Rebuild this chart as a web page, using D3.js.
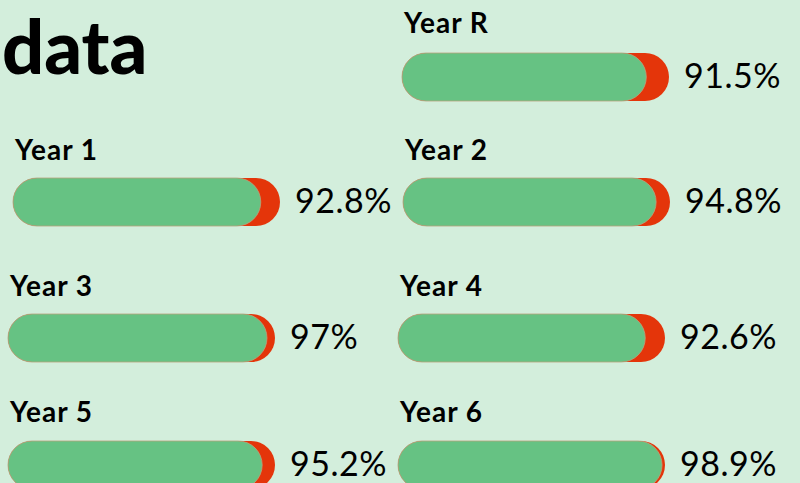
<!DOCTYPE html>
<html>
<head>
<meta charset="utf-8">
<script src="https://cdn.jsdelivr.net/npm/d3@7"></script>
<style>
  body { margin: 0; background: #d3eedc; }
  svg { display: block; }
</style>
</head>
<body>
<div id="chart"></div>
<script>
// data
const years = ['Year R', 'Year 1', 'Year 2', 'Year 3', 'Year 4', 'Year 5', 'Year 6'];
const attendance = [91.5, 92.8, 94.8, 97, 92.6, 95.2, 98.9];
const valueLabels = ['91.5%', '92.8%', '94.8%', '97%', '92.6%', '95.2%', '98.9%'];

width = 800;
height = 483;
barH = 48;
trackW = 267;

// grid layout: Year R sits top right, next to the title
rowLabelY = [33, 160, 296, 422];
rowBarY = [53, 178, 314, 441];
rowShift = [4, 5, 0, 0];
colX = [8, 398];

cells = years.map((y, i) => {
  let row = Math.floor((i + 1) / 2);
  let col = (i + 1) % 2;
  return { year: y, value: attendance[i], label: valueLabels[i], row: row, x: colX[col] + rowShift[row] };
});

x = d3.scaleLinear().domain([0, 100]).range([0, trackW]);

var svg = d3.select('#chart')
  .append('svg')
  .attr('width', width)
  .attr('height', height)
  .attr('viewBox', [0, 0, width, height]);

svg.append('rect').attr('width', width).attr('height', height).attr('fill', '#d3eedc');

// title
svg.append('text')
  .attr('x', 2)
  .attr('y', 74)
  .attr('font-family', 'Lato, sans-serif')
  .attr('font-weight', 900)
  .attr('font-size', 74)
  .attr('fill', '#000')
  .text('data');

g = svg.selectAll('g.cell')
  .data(cells)
  .join('g')
  .attr('class', 'cell')
  .attr('transform', (d) => `translate(${d.x},0)`);

g.append('text')
  .attr('x', 2)
  .attr('y', (d) => rowLabelY[d.row])
  .attr('font-family', 'Lato, sans-serif')
  .attr('font-weight', 700)
  .attr('font-size', 28)
  .attr('letter-spacing', 1)
  .attr('fill', '#000')
  .text((d) => d.year);

// red track behind
g.append('rect')
  .attr('x', x(0))
  .attr('y', (d) => rowBarY[d.row])
  .attr('width', x(100))
  .attr('height', barH)
  .attr('rx', barH / 2)
  .attr('fill', '#e4350a');

// green value bar
g.append('rect')
  .attr('x', x(0))
  .attr('y', (d) => rowBarY[d.row])
  .attr('width', (d) => x(d.value))
  .attr('height', barH)
  .attr('rx', barH / 2)
  .attr('fill', '#66c283')
  .attr('stroke', '#b9a27c')
  .attr('stroke-width', 0.8);

g.append('text')
  .attr('x', x(100) + 15)
  .attr('y', (d) => rowBarY[d.row] + 35)
  .attr('font-family', '"Comic Sans MS", Lato, sans-serif')
  .attr('font-size', 34)
  .attr('letter-spacing', 0.5)
  .attr('fill', '#000')
  .text((d) => d.label);
</script>
</body>
</html>
